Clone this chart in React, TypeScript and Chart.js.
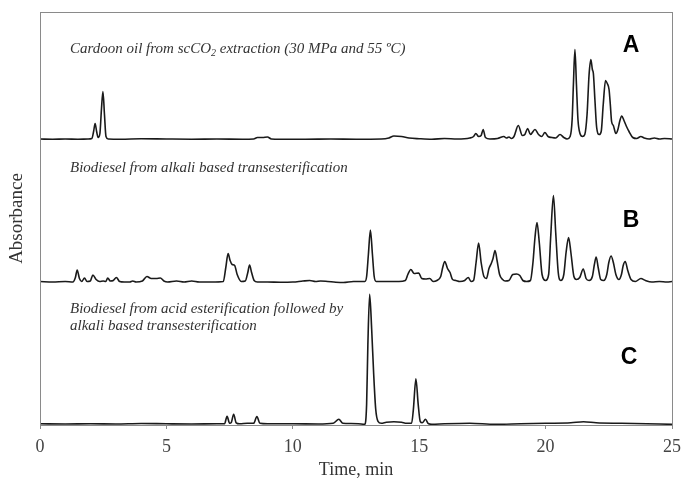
import React, { useEffect, useRef } from "react";
import { Chart, registerables } from "chart.js";

Chart.register(...registerables);

// ---- Data (time in min, absorbance above each trace's own baseline, arbitrary units) ----
const X_MIN = 0;
const X_MAX = 25;
const X_STEP = 5;
const Y_MAX = 413;

const OFFSET_A = 285.5;
const OFFSET_B = 142.5;
const OFFSET_C = 0.7;

const TRACE_LETTERS = ["A", "B", "C"];
const TITLE_A_PARTS = ["Cardoon oil from scCO", "2", " extraction (30 MPa and 55 ºC)"];
const TITLE_B = "Biodiesel from alkali based transesterification";
const TITLE_C_LINES = ["Biodiesel from acid esterification followed by", "alkali based transesterification"];

const traceA: [number, number][] = [
  [0, 0.5], [0.5, 0.3], [1.0, 0.5], [1.5, 0.3], [1.9, 0.5], [2.05, 1], [2.12, 8], [2.18, 16], [2.24, 8], [2.3, 2],
  [2.37, 6], [2.43, 30], [2.49, 48], [2.55, 25], [2.61, 3], [2.7, 0.5], [3.2, 0.3], [4, 0.8], [5, 0.5], [6, 0.3],
  [7, 0.5], [8, 0.3], [8.45, 0.5], [8.6, 2], [8.8, 2], [9.0, 2.5], [9.15, 0.5], [9.5, 0.3], [10.5, 0.3], [11.5, 0.5],
  [12.5, 0.3], [13.5, 0.5], [13.8, 1.5], [14.0, 3.5], [14.3, 3], [14.6, 1.5], [15, 0.8], [15.5, 0.3], [16, 1], [16.5, 0.5],
  [17, 1.5], [17.15, 3], [17.24, 6], [17.35, 3], [17.45, 4], [17.53, 10], [17.62, 2], [17.8, 0.5], [18.1, 1], [18.35, 3],
  [18.45, 1.5], [18.55, 2.5], [18.65, 1], [18.75, 3], [18.92, 14], [19.08, 4], [19.18, 5], [19.29, 11], [19.4, 5], [19.58, 10],
  [19.72, 5], [19.85, 3], [19.97, 7], [20.1, 3], [20.25, 2], [20.4, 1.5], [20.57, 5], [20.72, 2], [20.85, 0.5], [20.97, 3],
  [21.05, 20], [21.1, 55], [21.16, 90], [21.22, 55], [21.28, 20], [21.36, 6], [21.46, 3], [21.55, 5], [21.64, 25], [21.72, 65],
  [21.79, 80], [21.85, 70], [21.89, 66], [21.95, 40], [22.02, 12], [22.12, 5], [22.2, 8], [22.28, 35], [22.37, 59], [22.44, 56],
  [22.51, 50], [22.56, 35], [22.61, 18], [22.68, 14], [22.78, 6], [22.86, 10], [22.93, 18], [23.01, 23.5], [23.1, 19], [23.2, 13],
  [23.3, 8], [23.45, 2], [23.6, 1], [23.77, 3], [23.9, 1.5], [24.1, 0.5], [24.3, 1.5], [24.5, 0.5], [24.7, 1], [25, 0.5],
];

const traceB: [number, number][] = [
  [0, 1], [0.5, 0.5], [1.0, 1], [1.3, 0.5], [1.4, 5], [1.47, 12.5], [1.56, 4], [1.65, 1], [1.76, 4.5], [1.86, 1],
  [1.99, 1.5], [2.09, 7.5], [2.22, 3], [2.36, 1], [2.5, 1.5], [2.6, 1], [2.68, 4.5], [2.78, 1.5], [2.9, 2], [3.02, 5],
  [3.15, 1], [3.33, 0.5], [3.55, 0.5], [3.67, 1.5], [3.8, 0.5], [4.05, 1.5], [4.23, 6], [4.4, 4], [4.6, 4], [4.76, 4.5],
  [4.9, 1.5], [5.05, 0.5], [5.4, 1.5], [5.7, 0.5], [6, 1.5], [6.3, 0.5], [6.8, 0.5], [7.25, 1], [7.35, 15], [7.44, 29],
  [7.52, 22], [7.6, 18], [7.7, 17], [7.8, 8], [7.96, 1], [8.12, 1.5], [8.22, 10], [8.29, 17.5], [8.37, 10], [8.47, 2],
  [8.6, 0.5], [9, 0.5], [9.5, 0.3], [10, 0.5], [10.4, 1.5], [10.67, 2], [10.9, 1], [11.1, 1.5], [11.38, 1], [11.7, 0.3],
  [12, 0], [12.4, 1], [12.7, 1], [12.85, 1], [12.92, 6], [12.99, 28], [13.07, 52.5], [13.15, 28], [13.22, 6], [13.3, 1],
  [13.8, 1], [14.2, 1], [14.45, 2], [14.55, 8], [14.67, 13], [14.8, 9], [14.98, 9.5], [15.1, 4], [15.25, 3.5], [15.42, 4],
  [15.55, 1], [15.7, 2], [15.85, 6], [15.93, 15], [16.01, 21], [16.12, 14], [16.22, 10], [16.32, 3], [16.45, 2], [16.6, 1],
  [16.8, 2], [16.94, 5], [17.05, 1], [17.15, 2], [17.25, 20], [17.35, 39.5], [17.45, 20], [17.56, 6], [17.66, 4], [17.76, 14],
  [17.85, 19], [17.92, 24], [18.0, 32], [18.08, 22], [18.18, 8], [18.3, 3], [18.4, 1.5], [18.55, 2], [18.7, 8], [18.85, 8.5],
  [18.98, 7], [19.1, 2], [19.25, 1], [19.4, 2], [19.5, 20], [19.58, 45], [19.66, 60], [19.75, 40], [19.86, 8], [20.0, 2],
  [20.12, 8], [20.2, 45], [20.31, 87], [20.4, 50], [20.5, 10], [20.6, 2], [20.72, 8], [20.81, 30], [20.91, 45], [21.0, 30],
  [21.12, 6], [21.22, 3], [21.35, 5], [21.49, 13.5], [21.6, 4], [21.72, 2], [21.85, 6], [21.93, 18], [22.0, 25.5], [22.08, 15],
  [22.18, 3], [22.3, 2], [22.42, 8], [22.5, 20], [22.59, 26.5], [22.68, 20], [22.78, 8], [22.9, 3], [23.0, 8], [23.07, 17],
  [23.15, 21], [23.25, 12], [23.38, 3], [23.55, 1], [23.77, 4], [23.95, 2], [24.2, 0.5], [24.5, 1], [24.8, 0.5], [25, 1],
];

const traceC: [number, number][] = [
  [0, 0.5], [1, 0.3], [2, 0.5], [3, 0.3], [4, 0.8], [5, 0.5], [6, 0.3], [7, 0.5], [7.3, 0.5], [7.4, 8],
  [7.5, 1], [7.57, 2], [7.66, 10], [7.76, 1.5], [7.9, 0.5], [8.2, 1], [8.45, 1], [8.58, 7.7], [8.7, 1], [9, 0.5],
  [10, 0.5], [11, 0.3], [11.6, 1], [11.82, 5], [11.98, 1], [12.3, 0.8], [12.6, 0.5], [12.85, 0], [12.92, 20], [12.97, 80],
  [13.04, 130], [13.12, 95], [13.2, 50], [13.28, 15], [13.37, 3], [13.5, 1], [13.7, 2], [14.0, 2.5], [14.3, 2], [14.5, 1],
  [14.7, 1], [14.77, 15], [14.87, 45.5], [14.96, 20], [15.04, 3], [15.12, 1.5], [15.25, 5], [15.35, 1], [15.5, 0], [16, 0.5],
  [17, 1], [18, 0], [19, 0.5], [20, 1], [21, 1.5], [21.5, 2.5], [22, 1.5], [23, 1], [24, 0.5], [25, 0],
];

const LINE_COLOR = "#1a1a1a";
const FRAME_COLOR = "#8a8a8a";
const TEXT_COLOR = "#333";

const toPoints = (trace: [number, number][], offset: number) =>
  trace.map(([t, v]) => ({ x: t, y: offset + v }));

const framePlugin = {
  id: "frame",
  afterDatasetsDraw(chart: any) {
    const { ctx, chartArea } = chart;
    ctx.save();
    ctx.strokeStyle = FRAME_COLOR;
    ctx.lineWidth = 1;
    ctx.strokeRect(
      Math.round(chartArea.left) + 0.5,
      Math.round(chartArea.top) + 0.5,
      Math.round(chartArea.right - chartArea.left),
      Math.round(chartArea.bottom - chartArea.top)
    );
    ctx.restore();
  },
};

const annotationPlugin = {
  id: "annotations",
  afterDraw(chart: any) {
    const { ctx } = chart;
    ctx.save();
    ctx.fillStyle = TEXT_COLOR;
    ctx.textBaseline = "alphabetic";
    ctx.textAlign = "left";
    const italic = 'italic 15px "Liberation Serif"';
    // Title A with subscript
    let x = 70;
    const yA = 53;
    ctx.font = italic;
    ctx.fillText(TITLE_A_PARTS[0], x, yA);
    x += ctx.measureText(TITLE_A_PARTS[0]).width;
    ctx.font = 'italic 10px "Liberation Serif"';
    ctx.fillText(TITLE_A_PARTS[1], x, yA + 3);
    x += ctx.measureText(TITLE_A_PARTS[1]).width;
    ctx.font = italic;
    ctx.fillText(TITLE_A_PARTS[2], x, yA);
    // Title B
    ctx.fillText(TITLE_B, 70, 172);
    // Title C
    ctx.fillText(TITLE_C_LINES[0], 70, 313);
    ctx.fillText(TITLE_C_LINES[1], 70, 330);
    // Letters
    ctx.fillStyle = "#000";
    ctx.font = 'bold 23px "Liberation Sans"';
    ctx.textAlign = "center";
    ctx.textBaseline = "middle";
    ctx.fillText(TRACE_LETTERS[0], 631, 46);
    ctx.fillText(TRACE_LETTERS[1], 631, 221);
    ctx.fillText(TRACE_LETTERS[2], 629, 358);
    ctx.restore();
  },
};

export default function App() {
  const canvasRef = useRef<HTMLCanvasElement | null>(null);

  useEffect(() => {
    const canvas = canvasRef.current;
    if (!canvas) return;
    const chart = new Chart(canvas, {
      type: "line",
      data: {
        datasets: [
          { label: "A", data: toPoints(traceA, OFFSET_A) },
          { label: "B", data: toPoints(traceB, OFFSET_B) },
          { label: "C", data: toPoints(traceC, OFFSET_C) },
        ].map((d) => ({
          ...d,
          borderColor: LINE_COLOR,
          borderWidth: 1.6,
          pointRadius: 0,
          fill: false,
          cubicInterpolationMode: "monotone" as const,
        })),
      },
      options: {
        animation: false,
        responsive: false,
        maintainAspectRatio: false,
        layout: { padding: { top: 12, right: 0, bottom: 0, left: 0 } },
        plugins: { legend: { display: false }, tooltip: { enabled: false } },
        scales: {
          x: {
            type: "linear",
            min: X_MIN,
            max: X_MAX,
            ticks: {
              stepSize: X_STEP,
              color: "#444",
              font: { family: "Liberation Serif", size: 18 },
              padding: 7,
              maxRotation: 0,
            },
            grid: { display: true, drawOnChartArea: false, drawTicks: true, tickLength: 4, color: FRAME_COLOR },
            border: { display: true, color: FRAME_COLOR },
            title: {
              display: true,
              text: "Time, min",
              color: "#333",
              font: { family: "Liberation Serif", size: 18, lineHeight: 1 },
              padding: { top: 0, bottom: 0 },
            },
            afterFit: (scale: any) => {
              scale.height = 54;
              scale.paddingRight = 9;
            },
          },
          y: {
            type: "linear",
            min: 0,
            max: Y_MAX,
            ticks: { display: false },
            grid: { display: false },
            border: { display: false },
            title: {
              display: true,
              text: "Absorbance",
              color: "#333",
              font: { family: "Liberation Serif", size: 19, lineHeight: 1 },
              padding: { top: 8, bottom: 0 },
            },
            afterFit: (scale: any) => {
              scale.width = 40;
            },
          },
        },
      },
      plugins: [framePlugin, annotationPlugin],
    });
    return () => chart.destroy();
  }, []);

  return (
    <div style={{ position: "fixed", left: 0, top: 0, width: 681, height: 479, background: "#fff" }}>
      <canvas ref={canvasRef} width={681} height={479} style={{ width: 681, height: 479, display: "block" }} />
    </div>
  );
}
